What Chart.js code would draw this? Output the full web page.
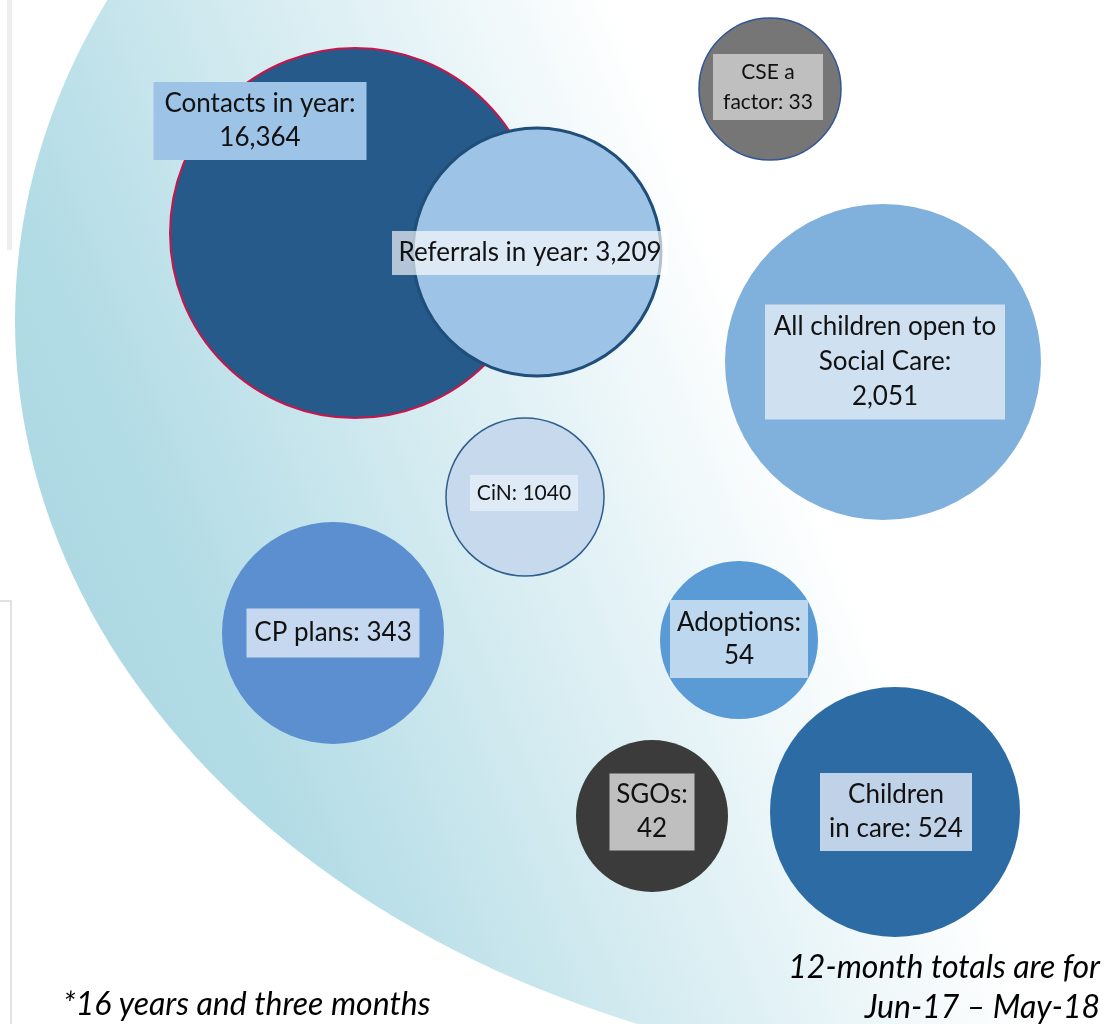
<!DOCTYPE html>
<html>
<head>
<meta charset="utf-8">
<script src="https://cdn.jsdelivr.net/npm/chart.js"></script>
<style>
  html, body { margin: 0; padding: 0; background: #ffffff; }
  #wrap { width: 1104px; height: 1024px; position: relative; }
</style>
</head>
<body>
<div id="wrap"><canvas id="bubbleChart" width="1104" height="1024"></canvas></div>
<script>
// values
const categories = ['Contacts in year', 'Referrals in year', 'CSE a factor', 'All children open to Social Care',
    'CiN', 'CP plans', 'Adoptions', 'SGOs', 'Children in care'];
const counts = [16364, 3209, 33, 2051, 1040, 343, 54, 42, 524];
// bubble centres on a 1104 x 1024 grid, and bubble radius
const posX = [355, 537, 770, 883, 525, 333, 739, 652, 895];
const posY = [233, 252, 89, 362, 497, 633, 640, 816, 812];
const bubbleR = [185, 124, 71, 158, 79, 111, 79, 76, 125];
// label text, {n} = count with thousands separator, {raw} = plain count
const labelTemplates = [
    ['Contacts in year:', '{n}'],
    ['Referrals in year: {n}'],
    ['CSE a', 'factor: {n}'],
    ['All children open to', 'Social Care:', '{n}'],
    ['CiN: {raw}'],
    ['CP plans: {n}'],
    ['Adoptions:', '{n}'],
    ['SGOs:', '{n}'],
    ['Children', 'in care: {n}']
];
const footLeft = '*16 years and three months';
const footRight = ['12-month totals are for', 'Jun-17 \u2013 May-18'];

const fillColors = ['#255a8b', '#9dc3e6', '#767676', '#80b0dc', '#c7d9ec', '#5b8fcf', '#5b9bd5', '#3b3b3b', '#2d6ba5'];
const borderColors = ['#c8164b', '#1f4e79', '#2f5597', '#80b0dc', '#2e5d8e', '#5b8fcf', '#5b9bd5', '#3b3b3b', '#2d6ba5'];
const borderWidths = [2, 3, 1.5, 0, 1.5, 0, 0, 0, 0];

// label boxes relative to bubble centre
const labelStyle = [
    { dx: -95, dy: -112, w: 213, h: 78, bg: '#9dc3e6', size: 26, lh: 34 },
    { dx: -7, dy: 1, w: 276, h: 44, bg: 'rgba(255,255,255,0.65)', size: 26, lh: 34 },
    { dx: -2, dy: -2, w: 110, h: 66, bg: '#bfbfbf', size: 21, lh: 30 },
    { dx: 2, dy: 0, w: 240, h: 115, bg: '#cfe0f1', size: 26, lh: 35 },
    { dx: -1, dy: -4, w: 108, h: 36, bg: '#deebf6', size: 21, lh: 30 },
    { dx: 0, dy: 0, w: 173, h: 49, bg: '#c5d8ef', size: 26, lh: 34 },
    { dx: 0, dy: -1, w: 138, h: 78, bg: '#bdd7ee', size: 26, lh: 33 },
    { dx: 0, dy: -4, w: 85, h: 77, bg: '#bfbfbf', size: 26, lh: 34 },
    { dx: 1, dy: 0, w: 152, h: 78, bg: '#c0d2e8', size: 26, lh: 34 }
];

const FONT = 'Lato, "Open Sans", sans-serif';

const backdrop = {
    id: 'backdrop',
    beforeDraw(chart) {
        const ctx = chart.ctx;
        ctx.save();
        ctx.fillStyle = '#ffffff';
        ctx.fillRect(0, 0, chart.width, chart.height);
        const grad = ctx.createLinearGradient(50, 700, 780, 400);
        grad.addColorStop(0, '#acd8e3');
        grad.addColorStop(0.2, '#b1dbe5');
        grad.addColorStop(0.6, '#d8edf2');
        grad.addColorStop(1, '#ffffff');
        ctx.beginPath();
        ctx.ellipse(1000, 320, 985, 757, 0, 0, Math.PI * 2);
        ctx.fillStyle = grad;
        ctx.fill();
        // faint frame remnants at the left edge
        ctx.fillStyle = '#eeeeee';
        ctx.fillRect(7, 0, 5, 250);
        ctx.strokeStyle = '#d9d9d9';
        ctx.lineWidth = 1.5;
        ctx.beginPath();
        ctx.moveTo(0, 601);
        ctx.lineTo(11, 601);
        ctx.lineTo(11, 1024);
        ctx.stroke();
        ctx.restore();
    }
};

const bubbleLabels = {
    id: 'bubbleLabels',
    afterDatasetsDraw(chart) {
        const ctx = chart.ctx;
        const meta = chart.getDatasetMeta(0);
        meta.data.forEach((el, i) => {
            const s = labelStyle[i];
            const cx = el.x + s.dx;
            const cy = el.y + s.dy;
            ctx.save();
            ctx.fillStyle = s.bg;
            ctx.fillRect(cx - s.w / 2, cy - s.h / 2, s.w, s.h);
            const lines = labelTemplates[i].map(t => t
                .replace('{n}', counts[i].toLocaleString('en-US'))
                .replace('{raw}', String(counts[i])));
            ctx.fillStyle = '#111111';
            ctx.font = s.size + 'px ' + FONT;
            ctx.textAlign = 'center';
            ctx.textBaseline = 'middle';
            const top = cy - (lines.length - 1) * s.lh / 2;
            lines.forEach((ln, k) => ctx.fillText(ln, cx, top + k * s.lh));
            ctx.restore();
        });
    },
    afterDraw(chart) {
        const ctx = chart.ctx;
        ctx.save();
        ctx.fillStyle = '#000000';
        ctx.font = 'italic 32px ' + FONT;
        ctx.textBaseline = 'middle';
        ctx.textAlign = 'left';
        ctx.fillText(footLeft, 63, 1005);
        ctx.textAlign = 'right';
        ctx.fillText(footRight[0], 1100, 968);
        ctx.fillText(footRight[1], 1100, 1008);
        ctx.restore();
    }
};

const ctx = document.getElementById('bubbleChart').getContext('2d');
const bubbleChart = new Chart(ctx, {
    type: 'bubble',
    data: {
        labels: categories,
        datasets: [{
            label: 'Children\'s social care, 12 months',
            data: posX.map((x, i) => ({ x: x, y: posY[i], r: bubbleR[i] })),
            backgroundColor: fillColors,
            borderColor: borderColors,
            borderWidth: borderWidths,
            hoverRadius: 0,
            clip: false
        }]
    },
    options: {
        responsive: false,
        animation: false,
        events: [],
        layout: { padding: 0, autoPadding: false },
        scales: {
            x: { type: 'linear', min: 0, max: 1104, display: false },
            y: { type: 'linear', min: 0, max: 1024, reverse: true, display: false }
        },
        plugins: {
            legend: { display: false },
            tooltip: { enabled: false }
        }
    },
    plugins: [backdrop, bubbleLabels]
});
</script>
</body>
</html>
